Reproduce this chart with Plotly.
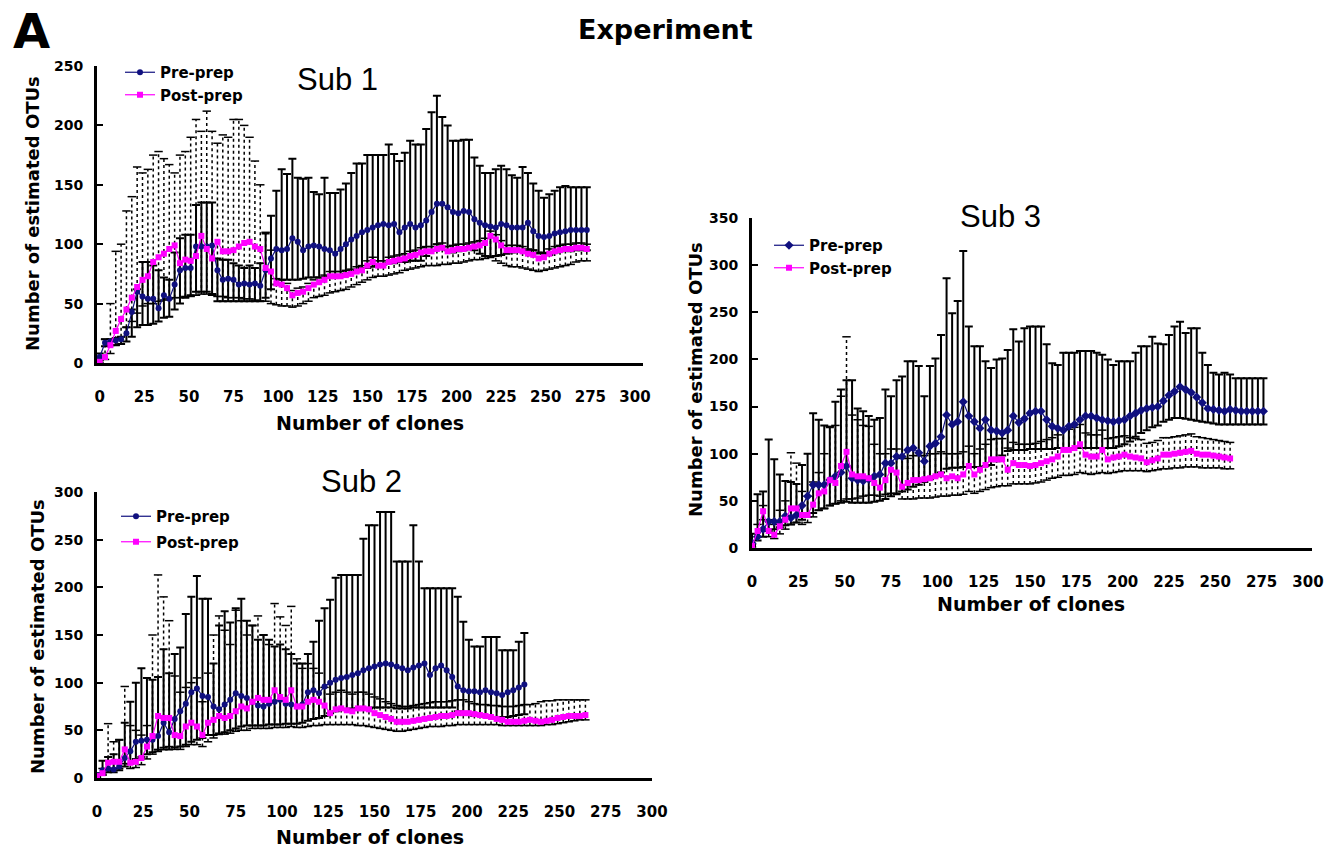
import numpy as np
import plotly.graph_objects as go

# ---------------- Sub 1 ----------------
x1_pre = list(range(0, 274, 3))
pre1 = [5,17,18,19,20,25,43,60,56,54, 54,46,57,54,66,78,80,80,98,98,
        98,99,78,70,71,70,66,67,66,67, 65,78,88,96,95,96,105,102,95,98,
        99,98,96,95,92,96,100,104,107,110, 112,114,116,117,116,117,110,114,117,114,
        116,120,127,134,134,131,127,126,128,127, 121,118,116,115,114,117,116,114,114,114,
        118,111,107,106,107,109,110,111,112,112, 112,112]
pre1_hi = [8,20,20,21,22,30,45,62,85,85, 82,78,72,70,93,105,108,108,133,135,
           135,135,88,87,87,84,82,80,82,80, 84,109,124,145,163,159,172,156,155,156,
           144,142,156,143,143,146,151,160,168,168, 175,175,175,175,184,176,170,177,187,184,
           184,197,211,225,207,200,187,187,188,188, 173,166,160,160,163,166,163,158,156,165,
           160,151,145,139,142,145,148,149,148,148, 148,148]
pre1_lo = [2,14,15,15,16,18,22,30,32,32, 33,35,38,39,45,50,55,57,60,60,
           60,58,52,52,52,52,52,52,52,52, 52,55,62,66,70,70,70,70,71,72,
           72,72,72,73,74,74,75,76,78,80, 80,81,82,83,84,84,85,85,86,86,
           86,90,95,100,98,95,93,94,95,96, 95,92,90,89,90,91,92,93,94,95,
           94,95,93,92,91,93,94,95,94,95, 95,95]
x1_post = list(range(0, 274, 3))
post1 = [1,5,15,27,37,45,55,64,70,73, 85,89,92,96,99,84,87,86,90,107,
         96,88,102,94,94,95,98,101,102,98, 96,80,77,67,66,63,57,59,60,63,
         66,68,70,73,73,73,74,75,77,78, 82,85,82,82,85,86,87,88,90,91,
         93,94,94,96,97,94,95,96,96,97, 98,99,101,107,104,99,95,95,95,94,
         92,91,88,89,92,94,95,96,96,97, 97,96]
post1_hi = [3,20,50,94,100,128,140,165,160,163, 175,178,172,167,160,175,178,190,205,195,
            212,195,185,192,190,205,205,200,190,170, 150,110,95,71,70,67,61,63,64,67,
            70,72,74,77,77,77,78,79,81,82, 86,89,86,86,89,90,91,92,94,95,
            97,98,98,100,101,98,99,100,100,101, 102,103,105,111,108,103,99,99,99,98,
            96,95,92,93,96,98,99,100,100,101, 101,100]
post1_lo = [0,3,8,15,22,30,35,42,48,50, 50,52,53,54,55,55,56,56,57,58,
            58,57,56,56,55,55,55,54,54,53, 52,52,50,49,48,48,47,48,50,52,
            55,56,57,59,60,61,62,64,66,68, 70,72,73,73,74,75,76,78,79,80,
            81,82,82,82,83,83,84,84,85,86, 87,87,88,90,86,84,82,81,81,80,
            79,78,77,78,79,80,81,82,83,85, 86,86]

# ---------------- Sub 2 ----------------
x2_pre = list(range(0, 232, 3))
pre2 = [3,8,10,9,12,21,28,38,39,40, 40,44,58,48,62,70,78,90,94,86,
        85,75,72,77,82,89,86,84,80,76, 75,78,80,82,78,77,75,77,90,92,
        89,96,100,103,105,106,108,110,113,115, 117,119,120,119,117,115,113,116,118,120,
        108,115,118,113,106,96,92,91,91,90, 92,90,89,87,90,92,95,98]
pre2_hi = [5,18,22,25,40,58,80,100,115,105, 103,106,135,110,130,137,172,190,212,188,
           188,120,160,175,163,178,188,165,160,145, 150,145,138,140,135,130,120,120,130,143,
           165,178,187,210,213,213,213,213,251,265, 265,279,279,279,227,227,227,265,227,199,
           199,199,199,199,199,190,164,145,138,138, 148,148,148,134,134,134,143,152]
pre2_lo = [1,4,6,6,8,12,15,20,22,25, 27,28,30,30,32,33,35,38,40,42,
           45,45,46,48,50,52,54,55,55,55, 55,56,56,56,57,57,57,58,60,62,
           63,65,68,70,72,72,73,73,73,73, 74,74,74,74,73,73,73,74,74,74,
           74,74,74,74,74,70,66,66,65,65, 64,64,64,64,64,65,66,67]
x2_post = list(range(0, 265, 3))
post2 = [2,5,16,17,17,30,16,17,21,33, 44,65,63,63,45,44,54,58,54,45,
         58,61,65,63,65,70,75,73,80,84, 82,82,92,85,82,92,75,75,80,82,
         80,76,68,72,73,71,70,73,73,72, 68,66,64,62,59,59,59,60,61,62,
         63,64,65,65,66,68,68,68,67,66, 65,64,62,61,59,59,59,60,61,60,
         59,60,61,63,64,65,65,65,66]
post2_hi = [3,10,57,38,40,96,55,50,45,55, 150,213,190,165,107,90,95,100,105,80,
            110,150,170,155,140,176,165,150,160,170, 150,140,183,169,160,180,125,115,120,115,
            110,95,88,90,92,90,88,90,90,88, 85,83,80,78,76,75,75,76,77,78,
            79,80,80,80,81,82,82,80,78,77, 77,76,76,75,75,75,76,77,77,78,
            80,81,81,82,82,82,82,82,82]
post2_lo = [1,3,8,10,10,15,10,11,14,20, 25,30,32,33,30,30,33,35,35,33,
            38,42,47,46,47,49,50,50,52,52, 52,52,53,53,53,54,53,53,54,55,
            55,56,56,56,56,56,56,55,55,54, 53,52,51,50,49,49,50,51,52,53,
            54,54,54,55,55,56,56,56,56,56, 56,56,56,55,55,55,55,55,55,55,
            55,56,56,57,58,59,60,61,61]

# ---------------- Sub 3 ----------------
x3_pre = list(range(0, 277, 3))
pre3 = [5,12,20,28,28,28,34,32,35,45, 55,67,67,67,72,76,80,87,74,72,
        71,73,76,78,90,90,97,97,104,106, 101,92,108,111,118,141,131,134,155,140,
        134,127,136,125,124,122,125,140,133,137, 143,145,145,136,129,127,125,129,131,136,
        140,140,138,136,135,134,135,136,140,143, 146,148,149,150,156,162,166,171,168,165,
        160,154,148,147,146,145,147,146,145,145, 145,145,145]
pre3_hi = [15,57,60,115,94,78,71,70,68,88, 100,143,136,130,128,155,168,178,178,148,
           145,140,136,138,168,161,178,182,198,198, 193,161,193,201,226,286,249,262,315,235,
           214,214,198,191,200,201,210,232,219,233, 235,235,235,216,196,194,207,207,207,209,
           209,209,207,205,200,194,198,198,198,207, 214,214,224,217,216,226,235,240,228,233,
           233,207,194,186,184,186,184,180,180,180, 180,180,180]
pre3_lo = [2,8,12,18,20,22,24,25,27,30, 33,37,40,42,45,47,48,49,48,48,
           48,48,49,50,52,55,57,60,62,65, 67,70,73,76,80,84,85,85,86,86,
           86,86,87,88,92,98,103,104,104,104, 105,105,105,105,105,106,106,106,106,106,
           106,106,106,106,106,106,108,110,113,118, 122,125,128,130,134,136,138,138,137,136,
           135,134,133,132,131,131,131,131,131,131, 131,131,131]
x3_post = list(range(0, 259, 3))
post3 = [2,18,39,18,14,23,30,42,42,35, 35,46,58,60,72,69,87,102,78,76,
         76,74,69,64,72,83,80,65,69,72, 72,73,74,76,78,74,76,74,78,87,
         78,83,88,94,94,94,83,90,88,88, 87,88,90,92,94,97,104,104,106,110,
         99,97,97,104,94,96,97,99,97,96, 95,91,93,95,99,99,100,101,102,103,
         100,99,99,98,97,96,95]
post3_hi = [4,25,45,30,25,40,50,101,90,60, 55,70,80,100,129,130,161,224,141,136,
            130,129,110,100,100,105,105,95,95,98, 98,98,100,100,102,100,100,100,102,108,
            100,105,110,115,116,116,106,112,110,110, 110,111,113,115,117,120,126,126,128,131,
            122,120,120,125,116,117,118,119,117,116, 115,111,112,114,117,117,118,119,120,121,
            118,117,116,115,114,113,112]
post3_lo = [1,12,30,12,10,15,20,25,27,25, 27,33,40,42,45,47,50,52,52,53,
            55,56,56,55,57,58,58,52,52,52, 53,53,53,54,55,55,56,56,57,60,
            58,60,62,64,65,66,66,68,68,68, 68,69,70,72,74,75,77,77,78,80,
            79,78,79,80,79,80,81,82,82,82, 82,81,82,83,84,84,85,85,86,86,
            86,85,85,85,85,84,84]

NAVY = "#10107f"
MAGENTA = "#ff00ff"
BOLD = "DejaVu Sans"

fig = go.Figure()


def add_sub(xpre, pre, phi, plo, xpost, post, qhi, qlo, xa, ya, leg, pre_symbol):
    pre_a = np.array(pre, float)
    # solid error bars of Pre-prep
    fig.add_trace(go.Scatter(
        x=xpre, y=pre, mode="markers", xaxis=xa, yaxis=ya,
        marker=dict(size=1, color="rgba(0,0,0,0)"), showlegend=False, hoverinfo="skip",
        error_y=dict(type="data", symmetric=False,
                     array=(np.array(phi, float) - pre_a).tolist(),
                     arrayminus=(pre_a - np.array(plo, float)).tolist(),
                     color="black", thickness=2, width=4)))
    # dotted error bars of Post-prep
    xs, ys = [], []
    for xv, lo, hi in zip(xpost, qlo, qhi):
        xs += [xv, xv, None]
        ys += [lo, hi, None]
    fig.add_trace(go.Scatter(
        x=xs, y=ys, mode="lines", xaxis=xa, yaxis=ya, showlegend=False, hoverinfo="skip",
        line=dict(color="black", width=1.5, dash="3px,3px")))
    fig.add_trace(go.Scatter(
        x=list(xpost) + list(xpost), y=list(qhi) + list(qlo), mode="markers",
        xaxis=xa, yaxis=ya, showlegend=False, hoverinfo="skip",
        marker=dict(symbol="line-ew", size=6, line=dict(color="black", width=1.5))))
    fig.add_trace(go.Scatter(
        x=xpre, y=pre, mode="lines+markers", name="Pre-prep", xaxis=xa, yaxis=ya,
        legend=leg, legendgroup=leg + "pre", line=dict(color=NAVY, width=1.2),
        marker=dict(symbol=pre_symbol, size=6 if pre_symbol == "circle" else 7, color=NAVY)))
    fig.add_trace(go.Scatter(
        x=xpost, y=post, mode="lines+markers", name="Post-prep", xaxis=xa, yaxis=ya,
        legend=leg, legendgroup=leg + "post", line=dict(color=MAGENTA, width=1.2),
        marker=dict(symbol="square", size=6, color=MAGENTA)))


add_sub(x1_pre, pre1, pre1_hi, pre1_lo, x1_post, post1, post1_hi, post1_lo, "x", "y", "legend", "circle")
add_sub(x2_pre, pre2, pre2_hi, pre2_lo, x2_post, post2, post2_hi, post2_lo, "x2", "y2", "legend2", "circle")
add_sub(x3_pre, pre3, pre3_hi, pre3_lo, x3_post, post3, post3_hi, post3_lo, "x3", "y3", "legend3", "diamond")

W, H = 1342, 854


def px_x(p):
    return p / W


def px_y(p):
    return 1 - p / H


ytickfont = dict(family=BOLD, size=14, color="black", weight="bold")
xtickfont = dict(family=BOLD, size=15, color="black", weight="bold")


def xaxis(dom, rng, anchor):
    return dict(domain=dom, range=rng, anchor=anchor, tickmode="array",
                tickvals=list(range(0, 301, 25)), showgrid=False, zeroline=False,
                showline=True, linecolor="black", linewidth=3, ticks="",
                ticklabelstandoff=18, tickfont=xtickfont, automargin=False)


def yaxis(dom, rng, dtick, anchor):
    return dict(domain=dom, range=rng, anchor=anchor, dtick=dtick, showgrid=False,
                zeroline=False, showline=True, linecolor="black", linewidth=3,
                ticks="inside", ticklen=6, tickwidth=2, tickcolor="black",
                ticklabelstandoff=8, tickfont=ytickfont, automargin=False)


legfont = dict(family=BOLD, size=15, color="black", weight="bold")


def legend(x, y, gap):
    return dict(x=x, y=y, xanchor="left", yanchor="top", bgcolor="rgba(0,0,0,0)",
                font=legfont, tracegroupgap=gap, borderwidth=0)


fig.update_layout(
    width=W, height=H, autosize=False,
    margin=dict(l=0, r=0, t=0, b=0, pad=0, autoexpand=False),
    paper_bgcolor="white", plot_bgcolor="white",
    xaxis=xaxis([px_x(97), px_x(643)], [-1.5, 304.5], "y"),
    yaxis=yaxis([px_y(363), px_y(66)], [0, 250], 50, "x"),
    xaxis2=xaxis([px_x(97), px_x(652)], [0, 300], "y2"),
    yaxis2=yaxis([px_y(778), px_y(492)], [0, 300], 50, "x2"),
    xaxis3=xaxis([px_x(752), px_x(1312)], [0, 302.2], "y3"),
    yaxis3=yaxis([px_y(548), px_y(218)], [0, 350], 50, "x3"),
    legend=legend(px_x(120), px_y(56), 0),
    legend2=legend(px_x(116), px_y(500), 3),
    legend3=legend(px_x(769), px_y(229), 0),
)

ann = []


def text(t, x, y, size, bold=True, angle=0, family=BOLD):
    ann.append(dict(text=t, x=px_x(x), y=px_y(y), xref="paper", yref="paper",
                    xanchor="center", yanchor="middle", showarrow=False, textangle=angle,
                    font=dict(family=family, size=size, color="black",
                              weight="bold" if bold else "normal")))


text("A", 31, 31, 48)
text("Experiment", 665, 29, 27)
text("Sub 1", 337, 79, 31, bold=False, family="Liberation Sans")
text("Sub 2", 361, 482, 31, bold=False, family="Liberation Sans")
text("Sub 3", 1000, 217, 31, bold=False, family="Liberation Sans")
text("Number of clones", 370, 423, 19)
text("Number of clones", 370, 837, 19)
text("Number of clones", 1031, 604, 19)
text("Number of estimated OTUs", 32, 214, 18, angle=-90)
text("Number of estimated OTUs", 37, 637, 18, angle=-90)
text("Number of estimated OTUs", 695, 380, 18, angle=-90)
fig.update_layout(annotations=ann)

fig.write_html("out.html", config={"displayModeBar": False},
               post_script="document.body.style.margin='0px';document.body.style.overflow='hidden';")
